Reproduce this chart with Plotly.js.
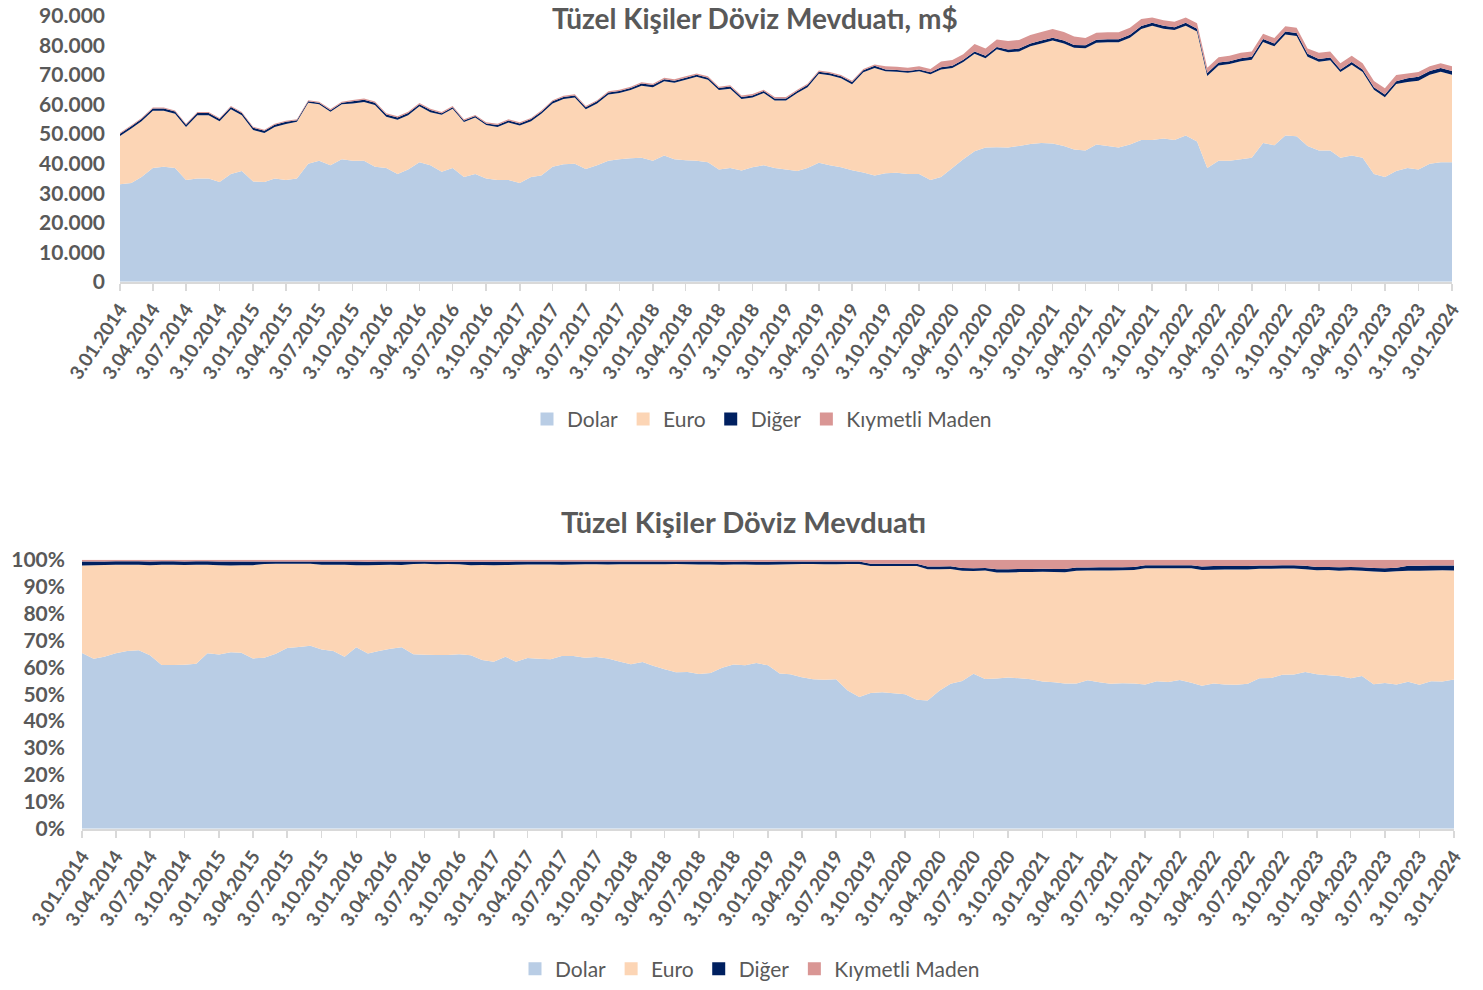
<!DOCTYPE html>
<html>
<head>
<meta charset="utf-8">
<script src="https://cdn.plot.ly/plotly-3.0.1.min.js"></script>
<style>html,body{margin:0;padding:0;background:#fff;}#chart{width:1483px;height:990px;}</style>
</head>
<body>
<div id="chart"></div>
<script>
var dates = [
'2014-01-03','2014-02-03','2014-03-03','2014-04-03','2014-05-03','2014-06-03','2014-07-03','2014-08-03','2014-09-03','2014-10-03','2014-11-03','2014-12-03',
'2015-01-03','2015-02-03','2015-03-03','2015-04-03','2015-05-03','2015-06-03','2015-07-03','2015-08-03','2015-09-03','2015-10-03','2015-11-03','2015-12-03',
'2016-01-03','2016-02-03','2016-03-03','2016-04-03','2016-05-03','2016-06-03','2016-07-03','2016-08-03','2016-09-03','2016-10-03','2016-11-03','2016-12-03',
'2017-01-03','2017-02-03','2017-03-03','2017-04-03','2017-05-03','2017-06-03','2017-07-03','2017-08-03','2017-09-03','2017-10-03','2017-11-03','2017-12-03',
'2018-01-03','2018-02-03','2018-03-03','2018-04-03','2018-05-03','2018-06-03','2018-07-03','2018-08-03','2018-09-03','2018-10-03','2018-11-03','2018-12-03',
'2019-01-03','2019-02-03','2019-03-03','2019-04-03','2019-05-03','2019-06-03','2019-07-03','2019-08-03','2019-09-03','2019-10-03','2019-11-03','2019-12-03',
'2020-01-03','2020-02-03','2020-03-03','2020-04-03','2020-05-03','2020-06-03','2020-07-03','2020-08-03','2020-09-03','2020-10-03','2020-11-03','2020-12-03',
'2021-01-03','2021-02-03','2021-03-03','2021-04-03','2021-05-03','2021-06-03','2021-07-03','2021-08-03','2021-09-03','2021-10-03','2021-11-03','2021-12-03',
'2022-01-03','2022-02-03','2022-03-03','2022-04-03','2022-05-03','2022-06-03','2022-07-03','2022-08-03','2022-09-03','2022-10-03','2022-11-03','2022-12-03',
'2023-01-03','2023-02-03','2023-03-03','2023-04-03','2023-05-03','2023-06-03','2023-07-03','2023-08-03','2023-09-03','2023-10-03','2023-11-03','2023-12-03',
'2024-01-03'];

var dolar = [
33000,33500,35500,38500,39000,38500,34500,35000,35000,33800,36500,37500,
34000,33800,35000,34500,35000,40000,41000,39500,41500,41000,41000,39000,
38500,36500,38000,40500,39500,37300,38500,35500,36500,35000,34500,34500,
33500,35500,36000,39000,39800,40000,38200,39500,41000,41500,41800,42000,
41000,42800,41500,41200,41000,40500,38000,38500,37700,38800,39500,38500,
38000,37500,38500,40300,39500,38800,37800,37000,36000,36800,36900,36500,
36500,34500,35500,38500,41500,44200,45500,45600,45500,46000,46700,47000,
46800,46000,44800,44500,46500,46000,45500,46500,48000,48000,48500,48000,
49500,47500,38500,41000,41000,41500,42000,47000,46200,49500,49300,46000,
44500,44500,42000,42800,42000,36500,35500,37500,38500,38000,40000,40500,
40500];

var euro = [
16400,18400,18900,19400,18900,18400,17900,21400,21400,20600,21900,18900,
17400,16600,17400,18900,19200,20600,19100,18100,18600,19400,19900,20900,
17400,18400,18400,18900,17900,19300,20100,18600,19100,18100,17900,19400,
19400,18900,20900,21400,22100,22400,20200,20900,22400,22400,23100,24400,
24900,25100,25900,27200,28400,27900,26900,26900,24200,23600,24400,22900,
23400,26400,27400,30100,30400,30100,29100,33900,36400,34500,34200,34300,
34800,35800,36400,33900,32900,33000,30200,33100,32200,32000,33000,33700,
34900,34700,34400,34600,34400,35100,35600,36100,37600,38700,37200,37200,
37200,37200,31200,32200,32700,33200,33200,34200,33500,34200,33900,30200,
30000,30500,29000,30700,29000,28500,27000,29500,29100,30100,30100,30600,
29600];

var diger = [
750,750,750,750,750,750,750,750,750,750,750,750,
750,750,750,750,500,500,500,500,500,750,750,750,
750,750,750,750,750,500,500,500,500,500,700,700,
700,700,700,700,700,700,700,700,700,700,700,700,
700,700,700,700,700,700,700,700,700,700,700,700,
700,700,700,700,700,700,700,700,700,600,600,600,
600,600,750,750,750,800,800,800,950,950,950,950,
950,950,950,1000,1000,1000,1000,1000,1000,1000,1000,1000,
1000,1000,1000,1000,1000,1000,1000,1000,1000,1000,1000,1000,
900,900,900,900,900,900,900,900,1300,1300,1300,1300,
1300];

var kiymetli = [
350,350,350,350,350,350,350,350,350,350,350,350,
350,350,350,350,350,400,400,400,400,400,400,400,
400,400,400,400,400,400,400,400,400,400,400,400,
400,400,400,400,400,400,400,400,400,400,450,450,
450,450,450,450,450,450,450,450,450,450,450,450,
450,450,450,450,450,450,450,450,450,1100,1100,1100,
1100,1100,1900,1900,1900,2500,2500,2500,2900,2900,2900,2900,
2900,2900,2900,2400,2400,2400,2400,2400,2400,1800,1800,1800,
1800,1800,1800,1800,1800,1800,1800,1800,1800,1800,1800,1800,
2100,2100,2100,2100,2100,2100,2100,2100,1600,1600,1600,1600,
1600];

var seriesNames = ['Dolar','Euro','Diğer','Kıymetli Maden'];
var seriesColors = ['#B9CDE5','#FCD5B5','#002060','#D99694'];
var seriesData = [dolar, euro, diger, kiymetli];
var titleTop = 'Tüzel Kişiler Döviz Mevduatı, m$';
var titleBottom = 'Tüzel Kişiler Döviz Mevduatı';

var FONT = 'Lato, "Open Sans", sans-serif';
var GREY = '#595959';
var traces = [];

seriesData.forEach(function(vals, i){
  traces.push({
    type:'scatter', x:dates, y:vals, xaxis:'x', yaxis:'y',
    stackgroup:'top', mode:'none', fillcolor:seriesColors[i],
    line:{width:0}, name:seriesNames[i], showlegend:false, hoverinfo:'skip'
  });
});
seriesData.forEach(function(vals, i){
  var t = {
    type:'scatter', x:dates, y:vals, xaxis:'x2', yaxis:'y2',
    stackgroup:'bot', mode:'none', fillcolor:seriesColors[i],
    line:{width:0}, name:seriesNames[i], showlegend:false, hoverinfo:'skip'
  };
  if(i===0) t.groupnorm = 'percent';
  traces.push(t);
});
// legend entries (no data)
seriesNames.forEach(function(n, i){
  traces.push({type:'scatter', x:[null], y:[null], xaxis:'x', yaxis:'y', mode:'markers',
    marker:{symbol:'square', size:13, color:seriesColors[i]}, name:n, legend:'legend', showlegend:true});
});
seriesNames.forEach(function(n, i){
  traces.push({type:'scatter', x:[null], y:[null], xaxis:'x2', yaxis:'y2', mode:'markers',
    marker:{symbol:'square', size:13, color:seriesColors[i]}, name:n, legend:'legend2', showlegend:true});
});

var W = 1483, H = 990;
function px(x){ return x / W; }
function py(y){ return (H - y) / H; }

var xCommon = {
  type:'date', tickformat:'%-d.%m.%Y', dtick:'M3', tick0:'2014-01-03',
  tickangle:-56, showgrid:false, zeroline:false,
  showline:true, linecolor:'#D9D9D9', linewidth:2,
  ticks:'outside', ticklen:7, tickcolor:'#D9D9D9', tickwidth:1.5,
  tickfont:{family:FONT, size:19, color:GREY, weight:'bold'},
  range:['2014-01-03','2024-01-03'], fixedrange:true
};

var legendCommon = {orientation:'h', xanchor:'center', yanchor:'middle',
  font:{family:FONT, size:21, color:GREY}, bgcolor:'rgba(0,0,0,0)', itemwidth:30,
  traceorder:'normal', tracegroupgap:0};

var layout = {
  width:W, height:H, margin:{l:0,r:0,t:0,b:0},
  paper_bgcolor:'#fff', plot_bgcolor:'#fff',
  separators:',.', hovermode:false, showlegend:true,
  xaxis: Object.assign({}, xCommon, {domain:[px(120), px(1452)], anchor:'y'}),
  yaxis: {domain:[py(283), py(16)], anchor:'x', range:[0,90000], dtick:10000,
    tickformat:',.0f', showgrid:false, zeroline:false, showline:false, ticks:'',
    ticklabelstandoff:14,
    tickfont:{family:FONT, size:21, color:GREY, weight:'bold'}, fixedrange:true},
  xaxis2: Object.assign({}, xCommon, {domain:[px(82), px(1454)], anchor:'y2'}),
  yaxis2: {domain:[py(832), py(562)], anchor:'x2', range:[0,100], dtick:10,
    ticksuffix:'%', showgrid:false, zeroline:false, showline:false, ticks:'',
    ticklabelstandoff:16,
    tickfont:{family:FONT, size:21, color:GREY, weight:'bold'}, fixedrange:true},
  legend: Object.assign({}, legendCommon, {x:px(762), y:py(421)}),
  legend2: Object.assign({}, legendCommon, {x:px(750), y:py(973)}),
  annotations:[
    {text:titleTop, xref:'paper', yref:'paper', x:px(755), y:1, xanchor:'center', yanchor:'top',
     borderpad:0, showarrow:false, font:{family:FONT, size:28, color:GREY, weight:'bold'}},
    {text:titleBottom, xref:'paper', yref:'paper', x:px(743), y:py(524), xanchor:'center', yanchor:'middle',
     showarrow:false, font:{family:FONT, size:29, color:GREY, weight:'bold'}}
  ]
};

Plotly.newPlot('chart', traces, layout, {staticPlot:true, displayModeBar:false});
</script>
</body>
</html>
